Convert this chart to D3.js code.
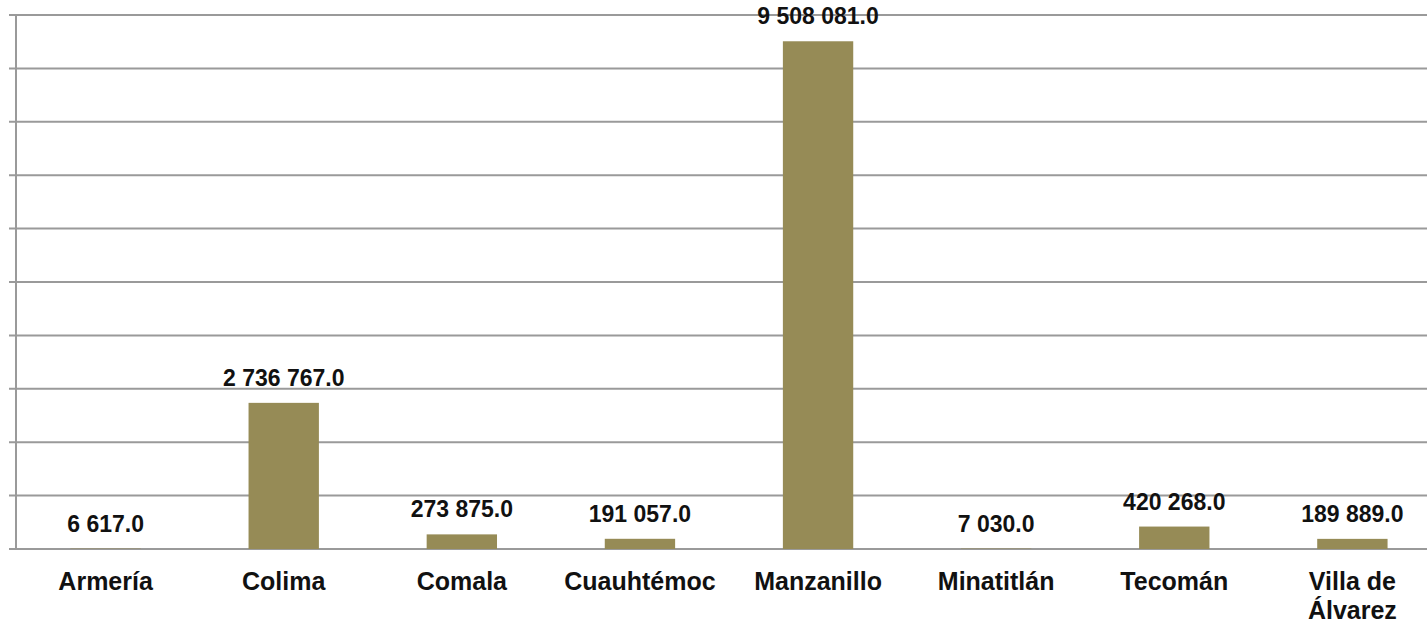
<!DOCTYPE html>
<html><head><meta charset="utf-8">
<script src="https://cdn.jsdelivr.net/npm/d3@7"></script>
<style>body{margin:0;background:#fff;overflow:hidden}svg{display:block}</style>
</head><body>
<svg id="c" width="1427" height="624"></svg>
<script>
const categories = ["Armería","Colima","Comala","Cuauhtémoc","Manzanillo","Minatitlán","Tecomán","Villa de Álvarez"];
const values = [6617, 2736767, 273875, 191057, 9508081, 7030, 420268, 189889];
const valueLabels = ["6 617.0","2 736 767.0","273 875.0","191 057.0","9 508 081.0","7 030.0","420 268.0","189 889.0"];
const categoryLines = [["Armería"],["Colima"],["Comala"],["Cuauhtémoc"],["Manzanillo"],["Minatitlán"],["Tecomán"],["Villa de","Álvarez"]];
const yTicks = d3.range(0, 10000001, 1000000);

const svg = d3.select("#c");
const x = d3.scaleBand().domain(categories).range([17, 1441]).paddingInner(0.605).paddingOuter(0.3);
const y = d3.scaleLinear().domain([0, 10000000]).range([549, 15]);
const font = "'Liberation Sans', Arial, sans-serif";

// gridlines
svg.append("g").selectAll("line").data(yTicks).join("line")
  .attr("x1", 9).attr("x2", 1427)
  .attr("y1", d => y(d)).attr("y2", d => y(d))
  .attr("stroke", "#9a9a9a").attr("stroke-width", 2);
// y axis line
svg.append("line").attr("x1", 16).attr("x2", 16).attr("y1", y(10000000)).attr("y2", y(0))
  .attr("stroke", "#9a9a9a").attr("stroke-width", 2);

// bars
svg.append("g").selectAll("rect").data(values).join("rect")
  .attr("x", (d,i) => x(categories[i]))
  .attr("width", x.bandwidth())
  .attr("y", d => y(d))
  .attr("height", d => y(0) - y(d))
  .attr("fill", "#968b56");

// value labels
svg.append("g").selectAll("text").data(values).join("text")
  .attr("x", (d,i) => x(categories[i]) + x.bandwidth()/2)
  .attr("y", d => y(d) - 17)
  .attr("text-anchor", "middle")
  .attr("font-family", font).attr("font-weight", "bold").attr("font-size", 23)
  .attr("fill", "#111")
  .text((d,i) => valueLabels[i]);

// category labels
const cl = svg.append("g").selectAll("text").data(categories).join("text")
  .attr("x", d => x(d) + x.bandwidth()/2)
  .attr("y", 590)
  .attr("text-anchor", "middle")
  .attr("font-family", font).attr("font-weight", "bold").attr("font-size", 25)
  .attr("fill", "#111");
cl.each(function(d,i){
  const t = d3.select(this);
  categoryLines[i].forEach((ln, j) => {
    t.append("tspan").attr("x", x(d) + x.bandwidth()/2).attr("dy", j === 0 ? 0 : 29).text(ln);
  });
});
</script>
</body></html>
